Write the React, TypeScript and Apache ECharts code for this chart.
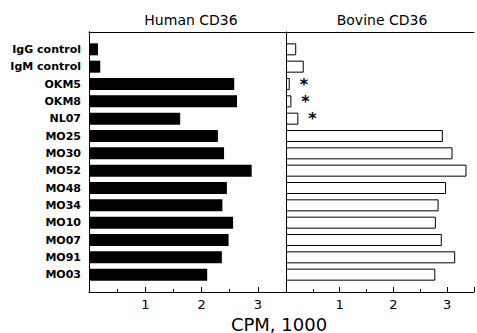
import React, { useEffect, useRef } from "react";
import * as echarts from "echarts";

const categories = [
  "IgG control",
  "IgM control",
  "OKM5",
  "OKM8",
  "NL07",
  "MO25",
  "MO30",
  "MO52",
  "MO48",
  "MO34",
  "MO10",
  "MO07",
  "MO91",
  "MO03",
];
const humanValues = [0.16, 0.2, 2.58, 2.63, 1.62, 2.29, 2.4, 2.89, 2.45, 2.37, 2.56, 2.48, 2.36, 2.1];
const bovineValues = [0.19, 0.33, 0.07, 0.1, 0.23, 2.92, 3.1, 3.36, 2.98, 2.84, 2.79, 2.9, 3.15, 2.78];
const bovineMarked = [false, false, true, true, true, false, false, false, false, false, false, false, false, false];
const xTicks = [1, 2, 3];
const panelTitles = ["Human CD36", "Bovine CD36"];
const xTitle = "CPM, 1000";

const FONT = "DejaVu Sans";

export default function App() {
  const ref = useRef<HTMLDivElement>(null);
  useEffect(() => {
    if (!ref.current) return;
    const chart = echarts.init(ref.current, undefined, { renderer: "svg" });
    const yData = ["", ...categories, ""];
    const pad = (arr: any[]) => [null, ...arr, null];

    const valueAxis = (gridIndex: number) => ({
      type: "value",
      gridIndex,
      position: "bottom",
      min: 0,
      max: 3.5,
      interval: 1,
      axisLine: { show: true, lineStyle: { color: "#000", width: 1 } },
      axisTick: { show: true, inside: true, length: 5, lineStyle: { color: "#000" } },
      minorTick: { show: true, splitNumber: 2, length: 3, lineStyle: { color: "#000" } },
      splitLine: { show: false },
      axisLabel: {
        show: true,
        margin: 6,
        color: "#000",
        fontFamily: FONT,
        fontSize: 13,
        formatter: (v: number) => (xTicks.includes(v) ? String(v) : ""),
      },
    });
    const topAxis = (gridIndex: number) => ({
      type: "value",
      gridIndex,
      position: "top",
      min: 0,
      max: 3.5,
      axisLine: { show: true, lineStyle: { color: "#000", width: 1 } },
      axisTick: { show: false },
      axisLabel: { show: false },
      splitLine: { show: false },
    });
    const catAxis = (gridIndex: number, labels: boolean) => ({
      type: "category",
      gridIndex,
      data: yData,
      inverse: true,
      boundaryGap: false,
      axisLine: { show: true, lineStyle: { color: "#000", width: 1 } },
      axisTick: { show: false },
      splitLine: { show: false },
      axisLabel: {
        show: labels,
        interval: 0,
        margin: 8,
        color: "#000",
        fontFamily: FONT,
        fontWeight: "bold",
        fontSize: 11,
      },
    });

    chart.setOption({
      animation: false,
      backgroundColor: "#fff",
      grid: [
        { left: 89, top: 32, width: 197, height: 260 },
        { left: 286, top: 32, width: 191, height: 260 },
      ],
      xAxis: [valueAxis(0), topAxis(0), valueAxis(1), topAxis(1)],
      yAxis: [
        catAxis(0, true),
        { ...catAxis(0, false), position: "right" },
        catAxis(1, false),
      ],
      series: [
        {
          type: "bar",
          xAxisIndex: 0,
          yAxisIndex: 0,
          barWidth: 12,
          itemStyle: { color: "#000" },
          data: pad(humanValues),
        },
        {
          type: "bar",
          xAxisIndex: 2,
          yAxisIndex: 2,
          barWidth: 12,
          itemStyle: { color: "#fff", borderColor: "#000", borderWidth: 1 },
          data: pad(
            bovineValues.map((v, i) => ({
              value: v,
              label: {
                show: bovineMarked[i],
                position: "right",
                distance: 10,
                formatter: "*",
                color: "#000",
                fontSize: 16,
                fontWeight: "bold",
                fontFamily: "DejaVu Sans",
              },
            }))
          ),
        },
      ],
      graphic: [
        {
          type: "text",
          x: 191,
          y: 20,
          style: {
            text: panelTitles[0],
            fill: "#000",
            font: `14px ${FONT}`,
            textAlign: "center",
            textVerticalAlign: "middle",
          },
        },
        {
          type: "text",
          x: 382,
          y: 20,
          style: {
            text: panelTitles[1],
            fill: "#000",
            font: `14px ${FONT}`,
            textAlign: "center",
            textVerticalAlign: "middle",
          },
        },
        {
          type: "text",
          x: 279,
          y: 324,
          style: {
            text: xTitle,
            fill: "#000",
            font: `18px ${FONT}`,
            textAlign: "center",
            textVerticalAlign: "middle",
          },
        },
      ],
    });
    return () => chart.dispose();
  }, []);
  return (
    <div
      ref={ref}
      style={{ position: "absolute", left: 0, top: 0, width: 477, height: 333 }}
    />
  );
}
